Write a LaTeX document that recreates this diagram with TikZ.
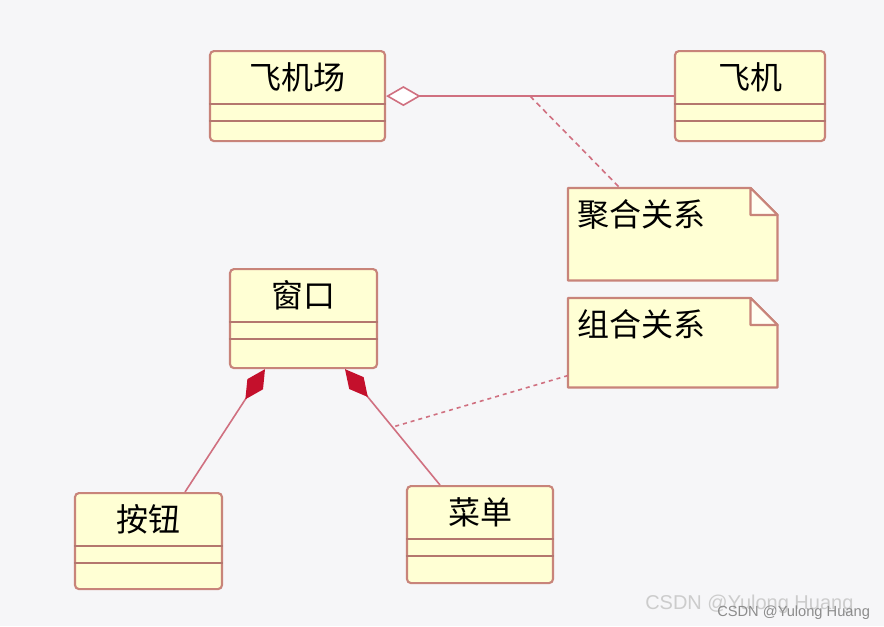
\documentclass[tikz,border=0pt]{standalone}
\usepackage{fontspec}
\newfontfamily\cjk{Noto Sans CJK SC}
\newfontfamily\wmfont{Liberation Sans}
\usetikzlibrary{arrows.meta,calc}

\definecolor{canvas}{HTML}{F6F6F8}
\definecolor{umlborder}{HTML}{C8847A}
\definecolor{umlfill}{HTML}{FFFFD4}
\definecolor{umlline}{HTML}{D07080}
\definecolor{umldiamond}{HTML}{C4102C}

% class box: id, centre x, top y, width, height, name
\newcommand{\umlclass}[6]{%
  \node[classbox, minimum width={#4*0.75pt}, minimum height={#5*0.75pt}, anchor=north] (#1) at (#2,#3) {};
  \node[classname] (#1-name) at ($(#1.north)+(0,27)$) {#6};
  \draw[classline] ($(#1.north west)+(0,54)$) -- ($(#1.north east)+(0,54)$);
  \draw[classline] ($(#1.north west)+(0,71)$) -- ($(#1.north east)+(0,71)$);
}

% note: id, left x, top y, height, text
\newcommand{\umlnote}[5]{%
  \node[notebox, minimum height={#4*0.75pt}, anchor=north west] (#1) at (#2,#3) {};
  \filldraw[noteedge] (#1.north west) -- ($(#1.north east)+(-27,0)$) -- ($(#1.north east)+(0,27)$)
    -- (#1.south east) -- (#1.south west) -- cycle;
  \filldraw[noteedge, fill=white!70!umlfill] ($(#1.north east)+(-27,0)$) |- ($(#1.north east)+(0,27)$) -- cycle;
  \node[notetext, anchor=west] (#1-text) at ($(#1.north west)+(9,26)$) {#5};
}

\begin{document}
\begin{tikzpicture}[
    x=0.75pt, y=-0.75pt,
    classbox/.style={draw=umlborder, fill=umlfill, line width=1.6pt, rounded corners=3pt, inner sep=0pt},
    classname/.style={font=\cjk\fontsize{24}{28}\selectfont, inner sep=0pt},
    classline/.style={draw=umlborder!90!black, line width=1.5pt},
    notebox/.style={minimum width={209*0.75pt}, inner sep=0pt},
    noteedge/.style={draw=umlborder, fill=umlfill, line width=1.6pt, line join=round},
    notetext/.style={font=\cjk\fontsize{24}{28}\selectfont, inner sep=0pt},
    assoc/.style={draw=umlline, line width=1.2pt},
    anchorline/.style={draw=umlline, line width=1.2pt, dash pattern=on 4pt off 3pt},
    wmark/.style={font=\wmfont, inner sep=0pt}
  ]
  \fill[canvas] (0,0) rectangle (884,626);
  \useasboundingbox (0,0) rectangle (884,626);

  % classes
  \umlclass{airport}{297.5}{50}{175}{90}{飞机场}
  \umlclass{plane}{750}{50}{150}{90}{飞机}
  \umlclass{window}{303.5}{268}{147}{99}{窗口}
  \umlclass{button}{148.5}{492}{147}{96}{按钮}
  \umlclass{menu}{480}{485}{146}{97}{菜单}

  % notes
  \umlnote{aggnote}{568}{188}{92}{聚合关系}
  \umlnote{compnote}{568}{298}{89}{组合关系}

  % aggregation
  \draw[assoc, {Diamond[fill=white, length=26pt, width=15pt]}-] (airport.east) -- (plane.west);
  \coordinate (agg-mid) at ($(airport.east)!0.5!(plane.west)$);
  \draw[anchorline] (agg-mid) -- ($(aggnote.north west)+(52,0)$);

  % composition
  \coordinate (win-left) at ($(window.south)+(-38.5,0)$);
  \coordinate (win-right) at ($(window.south)+(41.5,0)$);
  \coordinate (button-top) at ($(button.north)+(36.5,0)$);
  \coordinate (menu-top) at ($(menu.north)+(-40,0)$);
  \draw[assoc, {Diamond[fill=umldiamond, color=umldiamond, length=27pt, width=14pt]}-] (win-left) -- (button-top);
  \draw[assoc, {Diamond[fill=umldiamond, color=umldiamond, length=27pt, width=14pt]}-] (win-right) -- (menu-top);
  \coordinate (comp-mid) at ($(win-right)!0.5!(menu-top)$);
  \draw[anchorline, dash pattern=on 3pt off 3pt] ($(compnote.south west)+(0,-12)$) -- (comp-mid);

  % watermark
  \node[wmark, text=black!20, font=\wmfont\fontsize{15}{18}\selectfont, anchor=base west] (wm-back) at (645,609) {CSDN @Yulong Huang};
  \node[wmark, text=black!45, font=\wmfont\fontsize{11}{13}\selectfont, anchor=base west] (wm-front) at (717,616) {CSDN @Yulong Huang};
\end{tikzpicture}
\end{document}
